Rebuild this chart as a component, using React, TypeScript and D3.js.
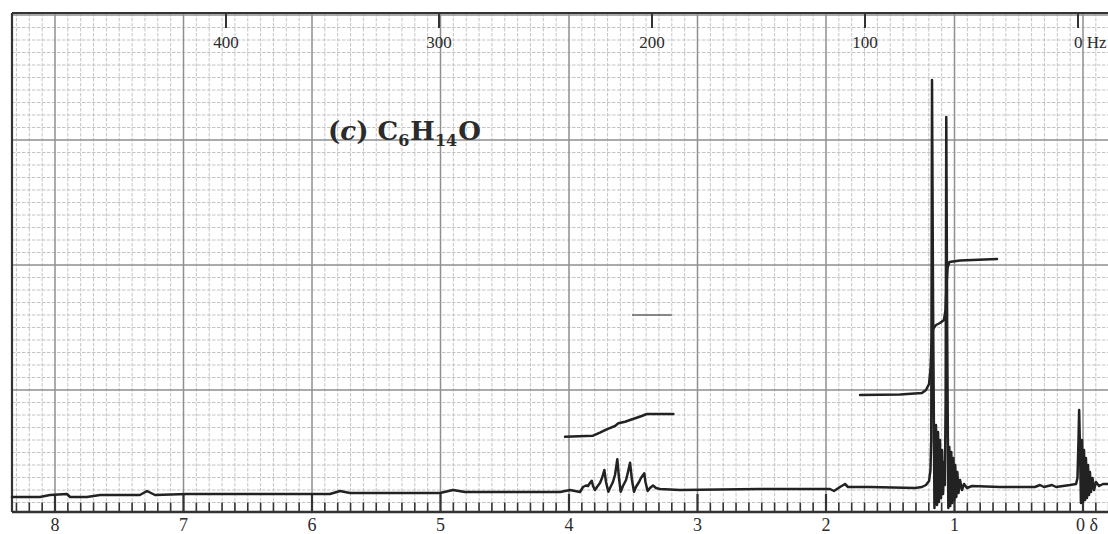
import React from 'react';
import * as d3 from 'd3';

// ---- axis labels ----
const ppmLabels = [8, 7, 6, 5, 4, 3, 2, 1];
const hzTicks = [400, 300, 200, 100, 0];

// ---- spectrum trace, [ppm, intensity] ----
const baselineLeft: [number, number][] = [
  [8.335, 15], [8.117, 15], [8.039, 17], [7.907, 18], [7.883, 15], [7.751, 15],
  [7.65, 17], [7.339, 17], [7.284, 21], [7.222, 17], [6.973, 18], [5.992, 18],
  [5.86, 18], [5.782, 21], [5.704, 19], [5.004, 19], [4.903, 22], [4.809, 20],
  [4.07, 20], [3.992, 22], [3.914, 20],
];
const septet: [number, number][] = [
  [3.891, 25], [3.868, 26.5], [3.852, 26], [3.837, 29], [3.823, 31.3], [3.813, 26],
  [3.798, 22], [3.782, 25], [3.759, 29], [3.743, 34], [3.725, 42], [3.712, 30],
  [3.694, 20.3], [3.681, 24], [3.658, 30], [3.642, 37], [3.624, 52.7], [3.611, 34],
  [3.598, 20.3], [3.58, 26], [3.556, 32], [3.541, 40], [3.525, 49.3], [3.51, 32],
  [3.494, 20.3], [3.479, 25], [3.455, 30], [3.44, 34], [3.414, 38.7], [3.405, 30],
  [3.388, 21], [3.37, 24], [3.346, 26.5], [3.323, 24], [3.292, 23],
];
const baselineMid: [number, number][] = [
  [3.136, 22], [2.514, 23], [1.969, 23], [1.938, 21], [1.891, 25], [1.852, 28],
  [1.829, 25], [1.658, 25], [1.307, 24],
];
const doublet: [number, number][] = [
  [1.253, 25], [1.222, 27], [1.198, 31], [1.187, 42], [1.181, 72], [1.175, 432],
  [1.167, 212], [1.156, 4],
  [1.144, 87], [1.136, 7], [1.128, 80], [1.121, 10], [1.113, 72], [1.105, 14],
  [1.097, 62], [1.089, 18], [1.082, 50], [1.075, 27],
  [1.069, 112], [1.064, 395], [1.057, 182], [1.048, 4],
  [1.04, 65], [1.033, 6], [1.025, 60], [1.017, 9], [1.009, 54], [1.002, 12],
  [0.994, 47], [0.986, 15], [0.978, 40], [0.969, 19], [0.957, 32], [0.942, 22],
  [0.926, 28], [0.903, 24], [0.864, 26],
];
const baselineRight: [number, number][] = [
  [0.646, 25], [0.374, 25], [0.335, 27], [0.304, 25], [0.241, 27], [0.21, 25],
  [0.101, 27], [0.054, 28],
];
const tms: [number, number][] = [
  [0.043, 34], [0.035, 72], [0.03, 102], [0.023, 62], [0.016, 9], [0.008, 72],
  [0.0, 10], [-0.008, 62], [-0.016, 12], [-0.023, 54], [-0.031, 14], [-0.039, 47],
  [-0.047, 17], [-0.054, 40], [-0.062, 20], [-0.074, 34], [-0.086, 22], [-0.101, 30],
  [-0.125, 26], [-0.156, 28], [-0.195, 28],
];

// ---- integral traces ----
const integralSeptet: [number, number][] = [
  [4.031, 75.3], [3.813, 76.3], [3.759, 79.3], [3.707, 82.7], [3.642, 86],
  [3.616, 88.7], [3.564, 90.3], [3.525, 92], [3.473, 94.3], [3.434, 96],
  [3.395, 98], [3.188, 98],
];
const integralDoublet: [number, number][] = [
  [1.735, 117], [1.424, 117.5], [1.253, 119], [1.222, 122], [1.198, 128],
  [1.187, 142], [1.179, 167], [1.167, 183], [1.144, 187], [1.113, 189],
  [1.082, 192], [1.07, 202], [1.062, 227], [1.054, 244], [1.04, 250],
  [0.957, 251.5], [0.669, 253],
];

// stray pen mark on the paper, [ppmFrom, ppmTo, intensity]
const penMarks: [number, number, number][] = [[3.51, 3.2, 197]];

const W = 1108;
const H = 534;
const left = 12;
const top = 13;
const bottom = 512;

export default function App() {
  const x = d3.scaleLinear().domain([0, 8]).range([1083, 55]);
  const hz = d3.scaleLinear().domain([0, 400]).range([1078, 226]);
  const y = d3.scaleLinear().domain([0, 500]).range([512, 12]);

  const line = d3
    .line<[number, number]>()
    .x((d) => x(d[0]))
    .y((d) => y(d[1]));

  const spectrum = [...baselineLeft, ...septet, ...baselineMid, ...doublet, ...baselineRight, ...tms];

  const vGrid = d3.range(-2, 84).map((k) => ({ ppm: k / 10, major: k % 10 === 0 }));
  const hGrid = d3.range(0, 40).map((k) => ({ v: 9.5 + 12.5 * k, major: k % 10 === 9 }));
  const bTicks = d3.range(-2, 84).map((k) => ({ ppm: k / 10, major: k % 10 === 0 }));

  const serif = "'Liberation Serif', 'DejaVu Serif', serif";
  const ink = '#2b2b2b';

  return (
    <svg width={W} height={H} style={{ position: 'absolute', left: 0, top: 0, background: '#fff' }}>
      <rect x={0} y={0} width={W} height={H} fill="#fff" />
      {/* chart paper grid */}
      <g>
        {vGrid.filter((g) => !g.major).map((g, i) => (
          <line key={'vm' + i} x1={x(g.ppm)} x2={x(g.ppm)} y1={top} y2={bottom}
            stroke="#bdbdbd" strokeWidth={0.9} strokeDasharray="3.5 1.5" />
        ))}
        {hGrid.filter((g) => !g.major).map((g, i) => (
          <line key={'hm' + i} x1={left} x2={W} y1={y(g.v)} y2={y(g.v)}
            stroke="#bdbdbd" strokeWidth={0.9} strokeDasharray="3.5 1.5" />
        ))}
        {vGrid.filter((g) => g.major).map((g, i) => (
          <line key={'vM' + i} x1={x(g.ppm)} x2={x(g.ppm)} y1={top} y2={bottom}
            stroke="#8f8f8f" strokeWidth={1.5} />
        ))}
        {hGrid.filter((g) => g.major).map((g, i) => (
          <line key={'hM' + i} x1={left} x2={W} y1={y(g.v)} y2={y(g.v)}
            stroke="#8f8f8f" strokeWidth={1.5} />
        ))}
        {penMarks.map((m, i) => (
          <line key={'pm' + i} x1={x(m[0])} x2={x(m[1])} y1={y(m[2])} y2={y(m[2])}
            stroke="#666" strokeWidth={1.6} />
        ))}
      </g>

      {/* frame */}
      <line x1={left} x2={W} y1={top} y2={top} stroke="#333" strokeWidth={2.2} />
      <line x1={left} x2={left} y1={top} y2={bottom} stroke="#333" strokeWidth={2.2} />
      <line x1={left} x2={W} y1={bottom} y2={bottom} stroke="#333" strokeWidth={2.4} />

      {/* bottom ppm ticks */}
      {bTicks.map((t, i) => (
        <line key={'bt' + i} x1={x(t.ppm)} x2={x(t.ppm)} y1={bottom}
          y2={t.major ? y(18) : y(9.5)} stroke="#333" strokeWidth={t.major ? 2.2 : 1.6} />
      ))}
      {ppmLabels.map((p) => (
        <text key={'pl' + p} x={x(p)} y={531} textAnchor="middle" fontFamily={serif}
          fontSize={18} fill={ink}>{p}</text>
      ))}
      <text x={x(0) - 7} y={531} fontFamily={serif} fontSize={18} fill={ink}>0 δ</text>

      {/* top Hz ticks */}
      {hzTicks.map((h) => (
        <line key={'ht' + h} x1={hz(h)} x2={hz(h)} y1={top} y2={28} stroke="#333" strokeWidth={2} />
      ))}
      {hzTicks.filter((h) => h !== 0).map((h) => (
        <text key={'hl' + h} x={hz(h)} y={48} textAnchor="middle" fontFamily={serif}
          fontSize={17} fill={ink}>{h}</text>
      ))}
      <text x={hz(0) - 4} y={48} fontFamily={serif} fontSize={17} fill={ink}>0 Hz</text>

      {/* title */}
      <text x={328} y={140} fontFamily="'DejaVu Serif', serif" fontSize={26} fontWeight={600} fill={ink}>
        (<tspan fontStyle="italic">c</tspan>)
        <tspan dx={9}>C</tspan>
        <tspan fontSize={16} dy={6}>6</tspan>
        <tspan dy={-6} dx={1}>H</tspan>
        <tspan fontSize={16} dy={6}>14</tspan>
        <tspan dy={-6} dx={1}>O</tspan>
      </text>

      {/* integrals */}
      <path d={line(integralSeptet) ?? ''} fill="none" stroke="#222" strokeWidth={2.5}
        strokeLinejoin="round" strokeLinecap="round" />
      <path d={line(integralDoublet) ?? ''} fill="none" stroke="#222" strokeWidth={2.5}
        strokeLinejoin="round" strokeLinecap="round" />

      {/* spectrum */}
      <path d={line(spectrum) ?? ''} fill="none" stroke="#222" strokeWidth={2.5}
        strokeLinejoin="round" strokeLinecap="round" />
    </svg>
  );
}
